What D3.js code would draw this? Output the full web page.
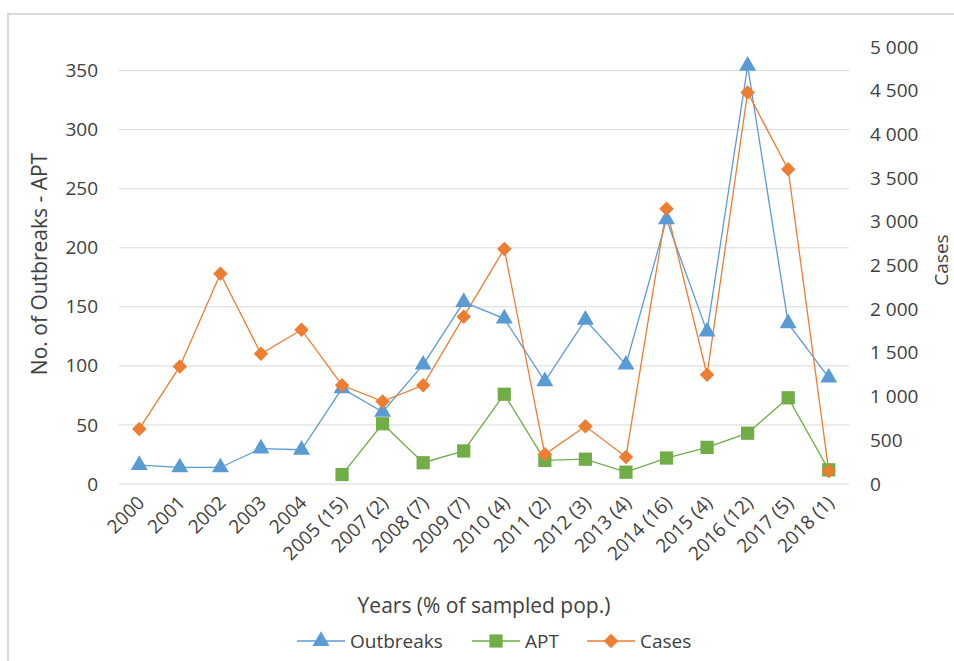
<!DOCTYPE html>
<html>
<head>
<meta charset="utf-8">
<script src="https://cdn.jsdelivr.net/npm/d3@7"></script>
<style>
  body { margin: 0; background: #fff; }
  text { font-family: "Open Sans", sans-serif; fill: #404040; }
</style>
</head>
<body>
<script>
var width = 954,
    height = 661;

// data
var years = ["2000", "2001", "2002", "2003", "2004", "2005 (15)", "2007 (2)", "2008 (7)",
  "2009 (7)", "2010 (4)", "2011 (2)", "2012 (3)", "2013 (4)", "2014 (16)", "2015 (4)",
  "2016 (12)", "2017 (5)", "2018 (1)"];
var outbreaks = [16, 14, 14, 30, 29, 81, 61, 101, 154, 140, 87, 139, 101, 224, 129, 354, 136, 90];
var apt = [null, null, null, null, null, 8, 51, 18, 28, 76, 20, 21, 10, 22, 31, 43, 73, 12];
var cases = [630, 1345, 2405, 1490, 1765, 1130, 945, 1130, 1915, 2690, 340, 660, 310, 3150, 1250, 4480, 3600, 150];

var leftTicks = [0, 50, 100, 150, 200, 250, 300, 350];
var rightTicks = [0, 500, 1000, 1500, 2000, 2500, 3000, 3500, 4000, 4500, 5000];

var margin = {left: 119, right: 849, top: 47, bottom: 484};

var svg = d3.select("body").append("svg")
    .attr("width", width)
    .attr("height", height);

// frame (only left + top edges visible)
svg.append("path")
  .attr("d", "M8,661 V14 H954")
  .attr("fill", "none")
  .attr("stroke", "#d9d9d9")
  .attr("stroke-width", 2);

var x = d3.scalePoint()
    .domain(years)
    .range([margin.left, margin.right])
    .padding(0.5);

var yLeft = d3.scaleLinear()
    .domain([0, 370])
    .range([margin.bottom, margin.top]);

var yRight = d3.scaleLinear()
    .domain([0, 5000])
    .range([margin.bottom, margin.top]);

// gridlines
svg.append("g").attr("class", "grid")
  .selectAll("line")
  .data(leftTicks)
  .enter().append("line")
  .attr("x1", margin.left)
  .attr("x2", margin.right)
  .attr("y1", d => yLeft(d))
  .attr("y2", d => yLeft(d))
  .attr("stroke", "#d9d9d9")
  .attr("stroke-width", 1);

// left axis
var leftAxis = d3.axisLeft(yLeft).tickValues(leftTicks).tickSize(0).tickPadding(0);
svg.append("g")
  .attr("transform", "translate(98,0)")
  .call(leftAxis)
  .call(g => g.select(".domain").remove())
  .selectAll("text")
  .attr("font-size", 19)
  .attr("font-family", null)
  .attr("fill", "#404040");

// right axis
var fmt = function(d) { return d3.format(",")(d).replace(",", " "); };
var rightAxis = d3.axisRight(yRight).tickValues(rightTicks).tickFormat(fmt).tickSize(0).tickPadding(0);
svg.append("g")
  .attr("transform", "translate(870,0)")
  .call(rightAxis)
  .call(g => g.select(".domain").remove())
  .selectAll("text")
  .attr("font-size", 19)
  .attr("font-family", null)
  .attr("fill", "#404040");

// x axis labels
var xAxis = d3.axisBottom(x).tickSize(0).tickPadding(0);
svg.append("g")
  .attr("transform", "translate(0," + margin.bottom + ")")
  .call(xAxis)
  .call(g => g.select(".domain").remove())
  .selectAll("text")
  .attr("font-size", 19)
  .attr("font-family", null)
  .attr("fill", "#404040")
  .attr("text-anchor", "end")
  .attr("dy", null)
  .attr("y", 0)
  .attr("transform", d => "translate(6,20) rotate(-45)");

// axis titles
svg.append("text")
  .attr("transform", "translate(47,264) rotate(-90)")
  .attr("text-anchor", "middle")
  .attr("font-size", 21)
  .text("No. of Outbreaks - APT");

svg.append("text")
  .attr("transform", "translate(948,260) rotate(-90)")
  .attr("text-anchor", "middle")
  .attr("font-size", 19)
  .text("Cases");

svg.append("text")
  .attr("x", 484)
  .attr("y", 613)
  .attr("text-anchor", "middle")
  .attr("font-size", 21)
  .text("Years (% of sampled pop.)");

// series
var series = [
  {name: "Outbreaks", values: outbreaks, y: yLeft, color: "#5b9bd5", shape: d3.symbolTriangle, size: 125, rot: 0},
  {name: "APT", values: apt, y: yLeft, color: "#70ad47", shape: d3.symbolSquare, size: 175, rot: 0},
  {name: "Cases", values: cases, y: yRight, color: "#ed7d31", shape: d3.symbolSquare, size: 105, rot: 45}
];

var plot = svg.append("g").attr("class", "plot");

series.forEach(function(s) {
  var pts = years.map((yr, i) => ({yr: yr, v: s.values[i]})).filter(d => d.v != null);
  var line = d3.line()
    .x(d => x(d.yr))
    .y(d => s.y(d.v));
  plot.append("path")
    .datum(pts)
    .attr("d", line)
    .attr("fill", "none")
    .attr("stroke", s.color)
    .attr("stroke-width", 1.3);
});

series.forEach(function(s) {
  var pts = years.map((yr, i) => ({yr: yr, v: s.values[i]})).filter(d => d.v != null);
  plot.append("g")
    .selectAll("path")
    .data(pts)
    .enter().append("path")
    .attr("d", d3.symbol().type(s.shape).size(s.size))
    .attr("transform", d => "translate(" + x(d.yr) + "," + s.y(d.v) + ") rotate(" + s.rot + ")")
    .attr("fill", s.color);
});

// legend
var legendX = [297, 472, 587];
var legend = svg.append("g").attr("class", "legend");
series.forEach(function(s, i) {
  var g = legend.append("g").attr("transform", "translate(" + legendX[i] + ",641)");
  g.append("line")
    .attr("x1", 0).attr("x2", 48)
    .attr("stroke", s.color).attr("stroke-width", 1.3);
  g.append("path")
    .attr("d", d3.symbol().type(s.shape).size(s.size))
    .attr("transform", "translate(24,0) rotate(" + s.rot + ")")
    .attr("fill", s.color);
  g.append("text")
    .attr("x", 53)
    .attr("dy", "0.35em")
    .attr("font-size", 19)
    .attr("fill", "#595959")
    .text(s.name);
});
</script>
</body>
</html>
